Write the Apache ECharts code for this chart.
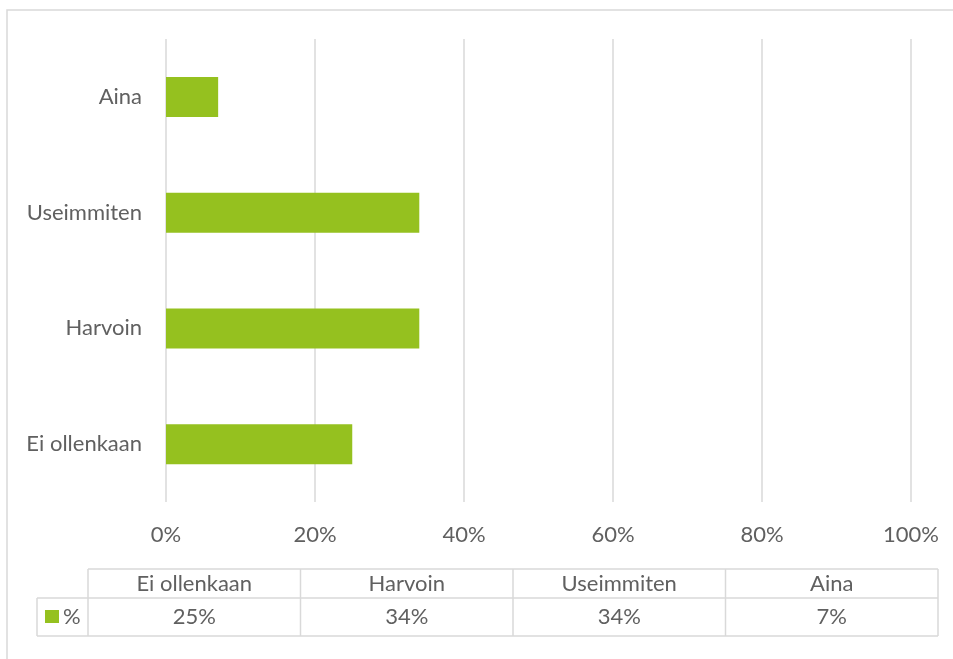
<!DOCTYPE html>
<html>
<head>
<meta charset="utf-8">
<script src="https://cdn.jsdelivr.net/npm/echarts@6/dist/echarts.min.js"></script>
<style>
  html, body { margin: 0; padding: 0; background: #ffffff; }
  #chart { width: 953px; height: 659px; }
</style>
</head>
<body>
<div id="chart"></div>
<script>
// Survey answers, shares in percent
const categories = ['Ei ollenkaan', 'Harvoin', 'Useimmiten', 'Aina'];
const shares = [25, 34, 34, 7];
const seriesName = '%';
const tickLabels = ['0%', '20%', '40%', '60%', '80%', '100%'];

const GREEN = '#95C11F';
const TEXT = '#606060';
const LINE = '#d9d9d9';
const FONT = 'Lato, "Open Sans", sans-serif';
const FS = 22;

// Data table under the axis: header row with categories, value row with shares
const table = { left: 88, right: 938, legendLeft: 37, top: 569, mid: 598, bottom: 636 };

function buildTable() {
  const els = [];
  const colW = (table.right - table.left) / categories.length;
  const lineStyle = { stroke: LINE, lineWidth: 1.5 };
  const font = FS + 'px ' + FONT;
  // horizontal rules
  els.push({ type: 'line', shape: { x1: table.left, y1: table.top, x2: table.right, y2: table.top }, style: lineStyle });
  els.push({ type: 'line', shape: { x1: table.legendLeft, y1: table.mid, x2: table.right, y2: table.mid }, style: lineStyle });
  els.push({ type: 'line', shape: { x1: table.legendLeft, y1: table.bottom, x2: table.right, y2: table.bottom }, style: lineStyle });
  // vertical rules
  els.push({ type: 'line', shape: { x1: table.legendLeft, y1: table.mid, x2: table.legendLeft, y2: table.bottom }, style: lineStyle });
  for (let i = 0; i <= categories.length; i++) {
    const x = table.left + i * colW;
    els.push({ type: 'line', shape: { x1: x, y1: table.top, x2: x, y2: table.bottom }, style: lineStyle });
  }
  // cells
  categories.forEach((c, i) => {
    const cx = table.left + (i + 0.5) * colW;
    els.push({ type: 'text', x: cx, y: (table.top + table.mid) / 2,
      style: { text: c, fill: TEXT, font: font, align: 'center', verticalAlign: 'middle' } });
    els.push({ type: 'text', x: cx, y: (table.mid + table.bottom) / 2,
      style: { text: shares[i] + '%', fill: TEXT, font: font, align: 'center', verticalAlign: 'middle' } });
  });
  // legend key in the value row
  els.push({ type: 'rect', shape: { x: 45, y: 610, width: 14, height: 13 }, style: { fill: GREEN } });
  els.push({ type: 'text', x: 63, y: (table.mid + table.bottom) / 2,
    style: { text: seriesName, fill: TEXT, font: font, align: 'left', verticalAlign: 'middle' } });
  return els;
}

const chart = echarts.init(document.getElementById('chart'), null, { renderer: 'canvas' });
chart.setOption({
  backgroundColor: '#ffffff',
  animation: false,
  grid: { left: 166, right: 42, top: 39, height: 463 },
  xAxis: {
    type: 'value',
    min: 0, max: 100, interval: 20,
    axisLine: { show: false },
    axisTick: { show: false },
    splitLine: { show: true, lineStyle: { color: LINE, width: 1.5 } },
    axisLabel: {
      margin: 22,
      color: TEXT,
      fontSize: FS,
      fontFamily: FONT,
      formatter: v => tickLabels[Math.round(v / 20)]
    }
  },
  yAxis: {
    type: 'category',
    data: categories,
    axisLine: { show: false },
    axisTick: { show: false },
    axisLabel: { margin: 24, color: TEXT, fontSize: FS, fontFamily: FONT }
  },
  series: [{
    name: seriesName,
    type: 'bar',
    data: shares,
    barWidth: 40,
    itemStyle: { color: GREEN }
  }],
  graphic: [
    { type: 'rect', shape: { x: 7, y: 10, width: 960, height: 670 },
      style: { fill: 'none', stroke: LINE, lineWidth: 1.5 }, silent: true },
    ...buildTable()
  ]
});
</script>
</body>
</html>
